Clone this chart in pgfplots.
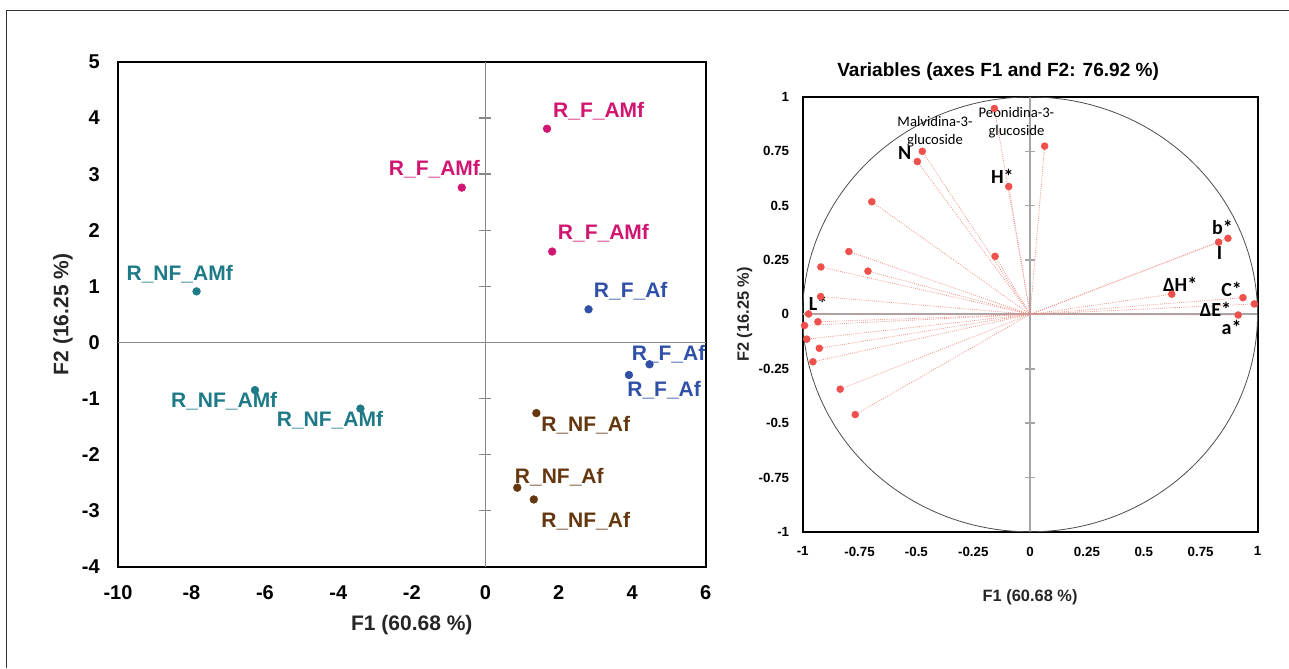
\documentclass[border=0pt]{standalone}
\usepackage{pgfplots}
\pgfplotsset{compat=1.18}
\usepackage{pgfplotstable}
\usepackage{fontspec}
\setmainfont{Liberation Sans}
\newfontfamily\carl{Carlito}

\definecolor{cpink}{RGB}{208,22,112}
\definecolor{cblue}{RGB}{47,80,166}
\definecolor{cteal}{RGB}{30,122,135}
\definecolor{cbrown}{RGB}{100,55,15}
\definecolor{cpt}{RGB}{240,80,75}
\definecolor{cln}{RGB}{240,140,130}
\definecolor{zgray}{RGB}{136,136,136}
\definecolor{zgray2}{RGB}{166,166,166}

% correlations of the variables with F1 and F2
\pgfplotstableread{
x y
-0.157 0.947
0.064 0.774
-0.474 0.750
-0.496 0.703
-0.094 0.588
-0.696 0.518
0.870 0.350
0.829 0.332
-0.154 0.267
-0.797 0.289
-0.920 0.218
-0.713 0.199
-0.921 0.082
0.623 0.093
0.936 0.077
0.986 0.048
0.915 -0.003
-0.974 0.002
-0.933 -0.034
-0.992 -0.051
-0.982 -0.114
-0.927 -0.156
-0.955 -0.218
-0.835 -0.344
-0.769 -0.461
}\vars

\begin{document}
\begin{tikzpicture}
\path (0,0) rectangle (966.75pt,501pt);
\draw[line width=0.75pt, black!80] (5.25pt,0pt) -- (5.25pt,492.75pt) -- (966.75pt,492.75pt);

% ---- observations ----
\begin{axis}[
  at={(88.5pt,75.75pt)}, anchor=south west, scale only axis,
  width=441pt, height=378.75pt,
  xmin=-10, xmax=6, ymin=-4, ymax=5,
  xtick={-10,-8,-6,-4,-2,0,2,4,6}, ytick={-4,-3,-2,-1,0,1,2,3,4,5},
  axis line style={line width=1.5pt},
  major tick length=0pt,
  /pgf/number format/assume math mode=true,
  tick label style={font=\fontsize{15}{18}\selectfont\bfseries, inner sep=0pt},
  xticklabel style={yshift=-14pt},
  yticklabel style={xshift=-13.5pt},
  xlabel={F1 (60.68 \%)}, ylabel={F2 (16.25 \%)},
  label style={font=\fontsize{15.75}{18}\selectfont\bfseries, text=black!85},
  xlabel style={at={([yshift=-43.5pt]axis description cs:0.5,0)}, anchor=center},
  ylabel style={at={([xshift=-41.25pt]axis description cs:0,0.5)}, anchor=center},
  clip=false,
]
\draw[zgray, line width=1.1pt] (axis cs:-10,0) -- (axis cs:6,0);
\draw[zgray, line width=1.1pt] (axis cs:0,-4) -- (axis cs:0,5);
\pgfplotsinvokeforeach{-3,-2,-1,1,2,3,4}{
  \draw[zgray, line width=1.1pt] (axis cs:0,#1) ++(-4.5pt,0pt) -- ++(9pt,0pt);
}
\addplot[only marks, mark=*, mark size=2.9pt, color=cpink] coordinates {(1.68,3.81) (-0.64,2.76) (1.82,1.62)};
\addplot[only marks, mark=*, mark size=2.9pt, color=cblue] coordinates {(2.81,0.59) (4.47,-0.39) (3.91,-0.58)};
\addplot[only marks, mark=*, mark size=2.9pt, color=cteal] coordinates {(-7.86,0.91) (-6.27,-0.85) (-3.40,-1.18)};
\addplot[only marks, mark=*, mark size=2.9pt, color=cbrown] coordinates {(1.39,-1.26) (0.87,-2.59) (1.32,-2.80)};
\begin{scope}[every node/.style={inner sep=0pt, font=\fontsize{15.75}{18}\selectfont\bfseries}]
\node[anchor=west, text=cpink] at (axis cs:1.84,4.12) {R\_F\_AMf};
\node[anchor=east, text=cpink] at (axis cs:-0.14,3.09) {R\_F\_AMf};
\node[anchor=west, text=cpink] at (axis cs:1.97,1.94) {R\_F\_AMf};
\node[anchor=west, text=cblue] at (axis cs:2.95,0.91) {R\_F\_Af};
\node[anchor=west, text=cblue] at (axis cs:3.98,-0.21) {R\_F\_Af};
\node[anchor=west, text=cblue] at (axis cs:3.86,-0.86) {R\_F\_Af};
\node[anchor=west, text=cteal] at (axis cs:-9.77,1.22) {R\_NF\_AMf};
\node[anchor=west, text=cteal] at (axis cs:-8.56,-1.04) {R\_NF\_AMf};
\node[anchor=west, text=cteal] at (axis cs:-5.68,-1.38) {R\_NF\_AMf};
\node[anchor=west, text=cbrown] at (axis cs:1.52,-1.48) {R\_NF\_Af};
\node[anchor=west, text=cbrown] at (axis cs:0.80,-2.41) {R\_NF\_Af};
\node[anchor=west, text=cbrown] at (axis cs:1.52,-3.18) {R\_NF\_Af};
\end{scope}
\end{axis}

% ---- variables ----
\begin{axis}[
  at={(602.25pt,102pt)}, anchor=south west, scale only axis,
  width=341.25pt, height=326.25pt,
  xmin=-1, xmax=1, ymin=-1, ymax=1,
  xtick={-1,-0.75,-0.5,-0.25,0,0.25,0.5,0.75,1},
  ytick={-1,-0.75,-0.5,-0.25,0,0.25,0.5,0.75,1},
  axis line style={line width=1.5pt},
  major tick length=0pt,
  /pgf/number format/assume math mode=true,
  tick label style={font=\fontsize{10}{12}\selectfont\bfseries, inner sep=0pt},
  xticklabel style={yshift=-11pt},
  yticklabel style={xshift=-10pt},
  title={Variables (axes F1 and F2: 76.92 \%)},
  title style={at={([xshift=-24pt,yshift=13pt]axis description cs:0.5,1)}, anchor=center, font=\fontsize{14.3}{17}\selectfont\bfseries},
  xlabel={F1 (60.68 \%)}, ylabel={F2 (16.25 \%)},
  label style={font=\fontsize{12.3}{15}\selectfont\bfseries, text=black!85},
  xlabel style={at={([yshift=-48.75pt]axis description cs:0.5,0)}, anchor=center},
  ylabel style={at={([xshift=-43.5pt]axis description cs:0,0.5)}, anchor=center},
  clip=false,
]
\draw[zgray2, line width=1.5pt] (axis cs:-1,0) -- (axis cs:1,0);
\draw[zgray2, line width=1.5pt] (axis cs:0,-1) -- (axis cs:0,1);
\pgfplotsinvokeforeach{-0.75,-0.5,-0.25,0.25,0.5,0.75}{
  \draw[zgray2, line width=1.2pt] (axis cs:0,#1) ++(-3.75pt,0pt) -- ++(7.5pt,0pt);
}
% unit circle: half the axis width and half its height
\draw[black!70, line width=0.6pt] (axis cs:0,0) ellipse [x radius=170.625pt, y radius=163.125pt];
\addplot[quiver={u=\thisrow{x}, v=\thisrow{y}}, draw=cln, densely dotted, line width=0.6pt] table[x expr=0, y expr=0] {\vars};
\addplot[only marks, mark=*, mark size=2.6pt, color=cpt] table {\vars};
\begin{scope}[every node/.style={inner sep=0pt, font=\carl\fontsize{15}{18}\selectfont\bfseries}]
\node at (axis cs:-0.551,0.744) {N};
\node at (axis cs:-0.122,0.634) {H*};
\node at (axis cs:0.846,0.402) {b*};
\node at (axis cs:0.833,0.283) {I};
\node at (axis cs:0.66,0.14) {ΔH*};
\node at (axis cs:0.886,0.117) {C*};
\node at (axis cs:0.815,0.025) {ΔE*};
\node at (axis cs:0.886,-0.062) {a*};
\node at (axis cs:-0.932,0.051) {L*};
\end{scope}
\begin{scope}[every node/.style={inner sep=0pt, align=center, font=\carl\fontsize{11}{13.5}\selectfont}]
\node at (axis cs:-0.418,0.84) {Malvidina-3-\\glucoside};
\node at (axis cs:-0.06,0.881) {Peonidina-3-\\glucoside};
\end{scope}
\end{axis}
\end{tikzpicture}
\end{document}
